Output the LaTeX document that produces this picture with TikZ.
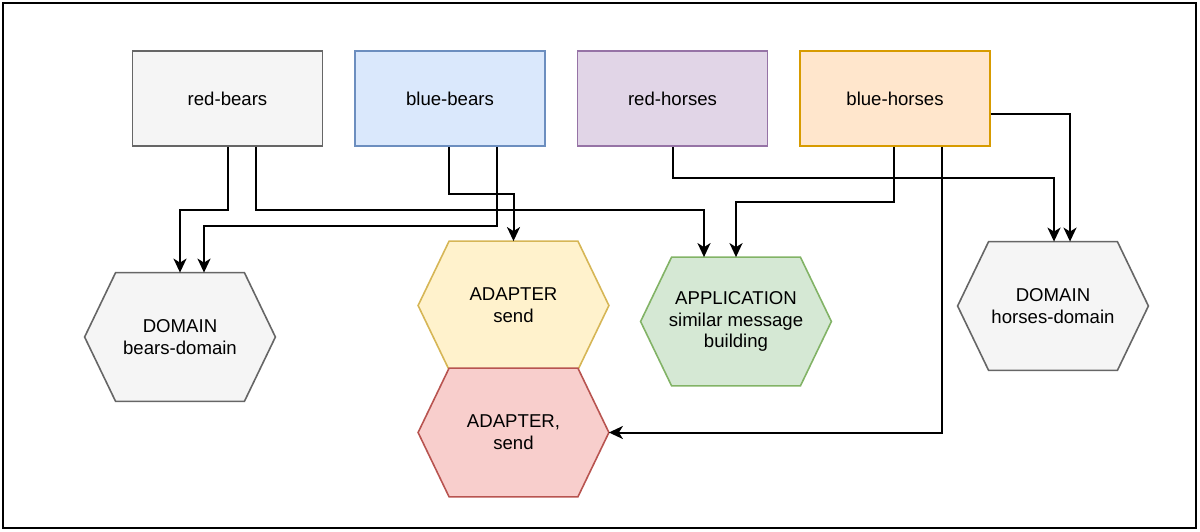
\documentclass[tikz,border=0pt]{standalone}
\usepackage{fontspec}
\setmainfont{Liberation Sans}
\usetikzlibrary{arrows.meta,calc,backgrounds}
\definecolor{gfill}{HTML}{F5F5F5}\definecolor{gdraw}{HTML}{666666}
\definecolor{bfill}{HTML}{DAE8FC}\definecolor{bdraw}{HTML}{6C8EBF}
\definecolor{pfill}{HTML}{E1D5E7}\definecolor{pdraw}{HTML}{9673A6}
\definecolor{ofill}{HTML}{FFE6CC}\definecolor{odraw}{HTML}{D79B00}
\definecolor{yfill}{HTML}{FFF2CC}\definecolor{ydraw}{HTML}{D6B656}
\definecolor{grfill}{HTML}{D5E8D4}\definecolor{grdraw}{HTML}{82B366}
\definecolor{rfill}{HTML}{F8CECC}\definecolor{rdraw}{HTML}{B85450}
\newcommand\hexpath[3]{%
  \begin{scope}[on background layer]
  \path[fill=#2,draw=#3,line width=0.8pt,line join=miter] (#1.west) -- ([xshift=15.5pt]#1.north west) -- ([xshift=-15.5pt]#1.north east) -- (#1.east) -- ([xshift=-15.5pt]#1.south east) -- ([xshift=15.5pt]#1.south west) -- cycle;
  \end{scope}}
\begin{document}
\begin{tikzpicture}[x=0.5pt,y=-0.5pt,
  txt/.style={font=\fontsize{9.3pt}{10.9pt}\selectfont, align=center, text=black},
  box/.style={txt, minimum width=95pt, minimum height=47.5pt, inner sep=0pt, line width=0.8pt},
  hexn/.style={txt, minimum width=95pt, minimum height=64pt, inner sep=0pt},
  conn/.style={line width=1pt, -{Stealth[length=7pt,width=6.5pt,inset=2pt]}}]
\useasboundingbox (0,0) rectangle (1200,531);
\draw[line width=1.1pt] (3,3) rectangle (1196,528);
% boxes
\node[box, fill=gfill, draw=gdraw] (rb) at (227.5,98.5) {red-bears};
\node[box, fill=bfill, draw=bdraw] (bb) at (450,98.5) {blue-bears};
\node[box, fill=pfill, draw=pdraw] (rh) at (672.5,98.5) {red-horses};
\node[box, fill=ofill, draw=odraw] (bh) at (895,98.5) {blue-horses};
% hexagons
\node[hexn] (dom1) at (180,337) {DOMAIN\\bears-domain};
\hexpath{dom1}{gfill}{gdraw}
\node[hexn] (ad1) at (513.5,305.5) {ADAPTER\\send};
\hexpath{ad1}{yfill}{ydraw}
\node[hexn] (ad2) at (513.5,432.5) {ADAPTER,\\send};
\hexpath{ad2}{rfill}{rdraw}
\node[hexn] (app) at (736,321.5) {APPLICATION\\similar message\\building};
\hexpath{app}{grfill}{grdraw}
\node[hexn] (dom2) at (1053,306) {DOMAIN\\horses-domain};
\hexpath{dom2}{gfill}{gdraw}
% connectors
\draw[conn] ($(rb.south west)+(96,0)$) |- (180,210) -- (dom1.north);
\draw[conn] ($(rb.south west)+(124,0)$) |- (704,210) -- ($(app.north)+(-32,0)$);
\draw[conn] ($(bb.south west)+(143,0)$) |- (204,226) -- ($(dom1.north)+(24,0)$);
\draw[conn] ($(bb.south west)+(95,0)$) |- (513.5,194) -- (ad1.north);
\draw[conn] ($(rh.south west)+(96,0)$) |- (1054,178) -- ($(dom2.north)+(1,0)$);
\draw[conn] ($(bh.south west)+(95,0)$) |- (736,202) -- (app.north);
\draw[conn] ($(bh.east)+(0,15.5)$) -| ($(dom2.north)+(17,0)$);
\draw[conn] ($(bh.south west)+(143,0)$) |- (ad2.east);
\end{tikzpicture}
\end{document}
